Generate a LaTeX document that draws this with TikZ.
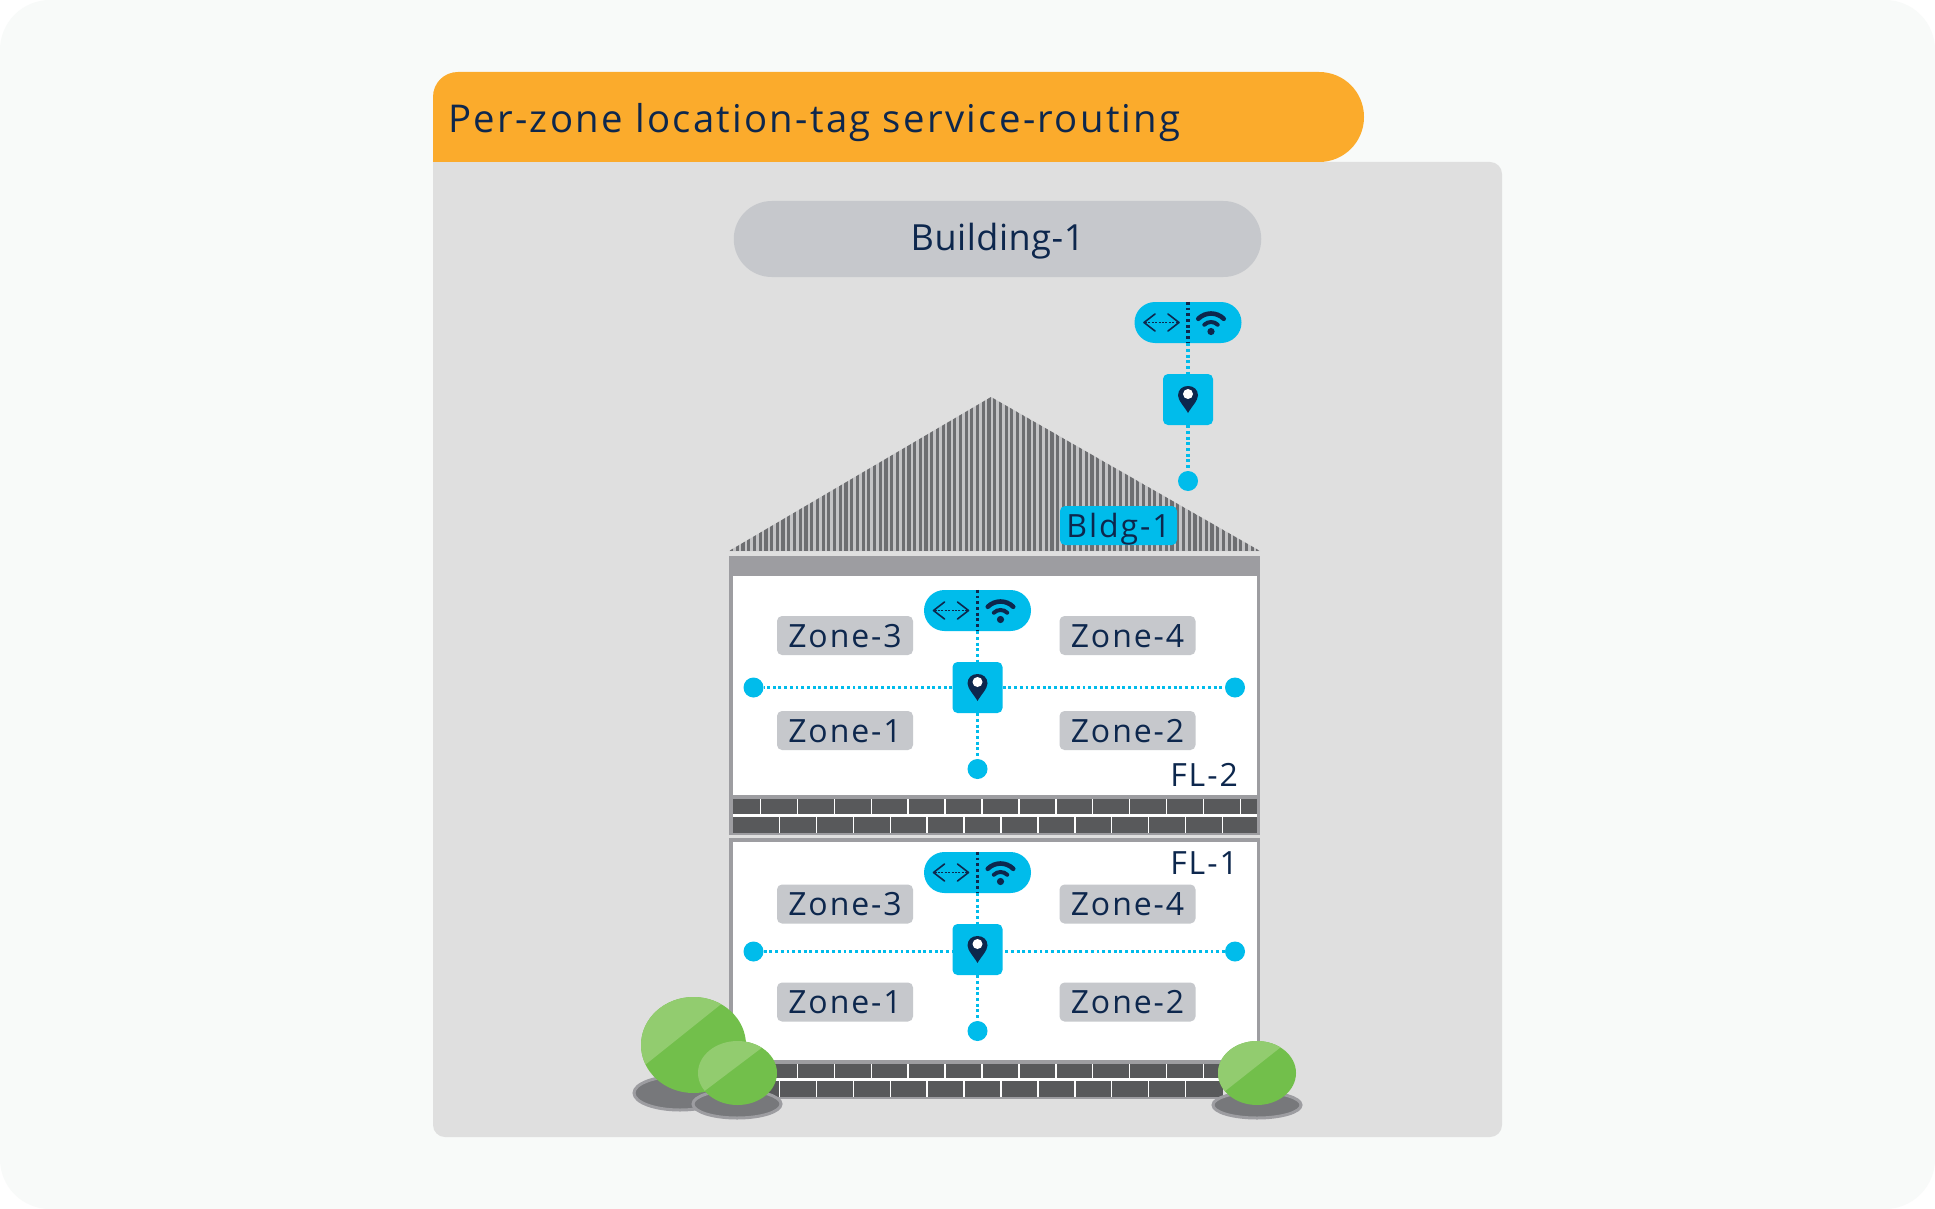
\documentclass[tikz,border=0pt]{standalone}
\usepackage{fontspec}
\setmainfont{Open Sans}[LetterSpace=1.5,Ligatures=NoCommon]
\newfontfamily\widefont{Open Sans}[LetterSpace=6,Ligatures=NoCommon]
\definecolor{canvasbg}{HTML}{F8FAF9}
\definecolor{panelbg}{HTML}{DFDFDF}
\definecolor{tabor}{HTML}{FBAB2C}
\definecolor{pillgr}{HTML}{C6C8CC}
\definecolor{cyanb}{HTML}{00BCEB}
\definecolor{navyt}{HTML}{0D274D}
\definecolor{wallgr}{HTML}{9D9DA1}
\definecolor{brickd}{HTML}{58595B}
\definecolor{roofd}{HTML}{6D6E71}
\definecolor{roofl}{HTML}{C4C4C6}
\definecolor{shad}{HTML}{77787B}
\definecolor{bushd}{HTML}{72BF4B}
\definecolor{bushl}{HTML}{92CC6F}
\newcommand{\fsz}[1]{\fontsize{#1}{#1}\selectfont}
\tikzset{
  x=1pt,y=-1pt,
  zonebox/.style={fill=pillgr,rounded corners=5pt,minimum width=136pt,minimum height=39pt,inner xsep=0pt,inner ysep=4pt,text height=27pt,text depth=4pt,text=navyt,font=\widefont\fsz{32}},
  floorlabel/.style={inner sep=0pt,anchor=base east,text=navyt,font=\widefont\fsz{32}},
  appill/.style={fill=cyanb,rounded corners=20.5pt,minimum width=107pt,minimum height=41pt,inner sep=0pt},
  tagbox/.style={fill=cyanb,rounded corners=5pt,minimum width=50pt,minimum height=51pt,inner sep=0pt},
  tagdot/.style={circle,fill=cyanb,minimum size=20pt,inner sep=0pt},
  dotline/.style={cyanb,line width=3.8pt,dash pattern=on 2.9pt off 2.8pt},
  dotdark/.style={navyt,line width=3.8pt,dash pattern=on 2.9pt off 2.8pt},
  locpin/.pic={
    \fill[navyt] (0,13.5) .. controls (-3,8) and (-10,1) .. (-10,-4) .. controls (-10,-10) and (-5.5,-13.5) .. (0,-13.5) .. controls (5.5,-13.5) and (10,-10) .. (10,-4) .. controls (10,1) and (3,8) .. (0,13.5) -- cycle;
    \fill[white] (0,-5.5) circle[radius=5];
  },
  apglyphs/.pic={
    \draw[navyt,line width=1.6pt,line cap=round,line join=round] (-33,-8.5) -- (-44,0) -- (-33,8.5);
    \draw[navyt,line width=1.6pt,line cap=round,line join=round] (-20,-8.5) -- (-9,0) -- (-20,8.5);
    \draw[navyt,line width=1.4pt,dash pattern=on 2pt off 1.4pt] (-43,0) -- (-10,0);
    \fill[navyt] (23,9) circle[radius=3.6];
    \draw[navyt,line width=4.6pt,line cap=round] (23,9) ++(-135:18) arc[start angle=-135,end angle=-45,radius=18];
    \draw[navyt,line width=4pt,line cap=round] (23,9) ++(-135:9.5) arc[start angle=-135,end angle=-45,radius=9.5];
  },
}
\begin{document}
\begin{tikzpicture}
\useasboundingbox (0,0) rectangle (1935,1209);
\fill[white] (0,0) rectangle (1935,1209);
\fill[canvasbg,rounded corners=50pt] (0,0) rectangle (1935,1209);
% panel
\fill[panelbg,rounded corners=12pt] (433,162) rectangle (1502,1137);
\fill[panelbg] (433,162) rectangle (470,200);
% header tab
\fill[tabor] (433,162) -- (433,97) .. controls (433,83) and (444,72) .. (458,72) -- (1319,72) .. controls (1344,72) and (1364,92) .. (1364,117) .. controls (1364,142) and (1344,162) .. (1319,162) -- cycle;
\node[inner sep=0pt,anchor=base west,text=navyt,font=\widefont\fsz{38.3}] (title) at (448,133) {Per-zone location-tag service-routing};
\node[fill=pillgr,rounded corners=38pt,minimum width=527.5pt,minimum height=76pt,inner sep=0pt,text height=30pt,text depth=8pt,text=navyt,font=\fsz{36}] (bldgpill) at (997.5,239) {Building-1};
% roof
\fill[roofl] (729,551) -- (991,397) -- (1260,551) -- cycle;
\begin{scope}
  \clip (729,551) -- (991,397) -- (1260,551) -- cycle;
  \foreach \k in {0,...,93} { \fill[roofd] ({730+\k*5.72},390) rectangle ({733.2+\k*5.72},551); }
\end{scope}
% walls
\fill[wallgr] (729,556) rectangle (1260,835);
\fill[white] (732.5,576) rectangle (1257,795);
\fill[white] (732.5,814) rectangle (1257,816.5);
\fill[brickd] (732.5,799) rectangle (1257,814);
\fill[brickd] (732.5,816.5) rectangle (1257,833);
\foreach \k in {0,...,13} { \fill[white] ({759.8+\k*36.9},799) rectangle ({761.3+\k*36.9},814); }
\foreach \k in {0,...,12} { \fill[white] ({778.8+\k*36.9},817) rectangle ({780.3+\k*36.9},833); }
\fill[wallgr] (729,838) rectangle (1260,1063);
\fill[white] (732.5,842) rectangle (1257,1060);
\fill[wallgr] (765,1063) rectangle (1223,1099);
\fill[white] (765,1078) rectangle (1223,1080.5);
\fill[brickd] (765,1064) rectangle (1223,1078);
\fill[brickd] (765,1080.5) rectangle (1223,1097);
\foreach \k in {1,...,12} { \fill[white] ({759.8+\k*36.9},1064) rectangle ({761.3+\k*36.9},1078); }
\foreach \k in {0,...,11} { \fill[white] ({778.8+\k*36.9},1081) rectangle ({780.3+\k*36.9},1097); }
% building tag
\node[appill] (bp) at (1188,322.5) {};
\pic at (1188,322.5) {apglyphs};
\node[tagbox] (bt) at (1188,399.5) {};
\pic at (1188,399.5) {locpin};
\node[tagdot] (bd) at (1188,481) {};
\draw[dotdark] (bp.north) -- (bp.south);
\draw[dotline] (bp.south) -- (bt.north);
\draw[dotline] (bt.south) -- (bd.north);
\node[zonebox,fill=cyanb,minimum width=117pt] (bldgtag) at (1118.5,525.5) {Bldg-1};
% floor 2
\node[zonebox] (a3) at (845,635.5) {Zone-3};
\node[zonebox] (a4) at (1127.5,635.5) {Zone-4};
\node[zonebox] (a1) at (845,730.5) {Zone-1};
\node[zonebox] (a2) at (1127.5,730.5) {Zone-2};
\node[appill] (ap) at (977.5,610.5) {};
\pic at (977.5,610.5) {apglyphs};
\node[tagbox] (at) at (977.5,687.5) {};
\pic at (977.5,687.5) {locpin};
\node[tagdot] (al) at (753.5,687.5) {};
\node[tagdot] (ar) at (1235,687.5) {};
\node[tagdot] (ad) at (977.5,769) {};
\draw[dotdark] (ap.north) -- (ap.south);
\draw[dotline] (ap.south) -- (at.north);
\draw[dotline] (at.south) -- (ad.north);
\draw[dotline] (at.west) -- (al.east);
\draw[dotline] (at.east) -- (ar.west);
\node[floorlabel] (fl2) at (1238,786) {FL-2};
% floor 1
\node[zonebox] (b3) at (845,904) {Zone-3};
\node[zonebox] (b4) at (1127.5,904) {Zone-4};
\node[zonebox] (b1) at (845,1002) {Zone-1};
\node[zonebox] (b2) at (1127.5,1002) {Zone-2};
\node[appill] (cp) at (977.5,872.5) {};
\pic at (977.5,872.5) {apglyphs};
\node[tagbox] (ct) at (977.5,949.5) {};
\pic at (977.5,949.5) {locpin};
\node[tagdot] (cl) at (753.5,951.5) {};
\node[tagdot] (cr) at (1235,951.5) {};
\node[tagdot] (cd) at (977.5,1031) {};
\draw[dotdark] (cp.north) -- (cp.south);
\draw[dotline] (cp.south) -- (ct.north);
\draw[dotline] (ct.south) -- (cd.north);
\draw[dotline] (cl.east) -- (ct.west |- cl.east);
\draw[dotline] (cr.west) -- (ct.east |- cr.west);
\node[floorlabel] (fl1) at (1238,874) {FL-1};
% shrubs
\filldraw[fill=shad,draw=wallgr,line width=3pt] (680,1093) ellipse[x radius=46,y radius=17];
\filldraw[fill=shad,draw=wallgr,line width=3pt] (737,1104) ellipse[x radius=44,y radius=14];
\filldraw[fill=shad,draw=wallgr,line width=3pt] (1257,1105) ellipse[x radius=44,y radius=13];
\begin{scope}
  \fill[bushd] (693.5,1045) ellipse[x radius=52.5,y radius=48];
  \clip (693.5,1045) ellipse[x radius=52.5,y radius=48];
  \fill[bushl] (630,1077) -- (740,989) -- (630,980) -- cycle;
\end{scope}
\begin{scope}
  \fill[bushd] (737.5,1073) ellipse[x radius=39.5,y radius=32];
  \clip (737.5,1073) ellipse[x radius=39.5,y radius=32];
  \fill[bushl] (690,1102) -- (780,1034) -- (690,1030) -- cycle;
\end{scope}
\begin{scope}
  \fill[bushd] (1257,1073) ellipse[x radius=39,y radius=32];
  \clip (1257,1073) ellipse[x radius=39,y radius=32];
  \fill[bushl] (1210,1103) -- (1300,1032) -- (1210,1030) -- cycle;
\end{scope}
\end{tikzpicture}
\end{document}
